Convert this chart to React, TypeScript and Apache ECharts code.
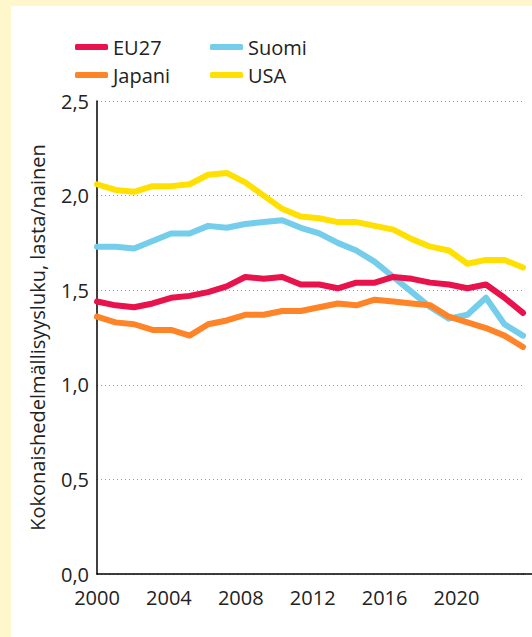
import React, { useEffect, useRef } from "react";
import * as echarts from "echarts";

const years = ["2000","2001","2002","2003","2004","2005","2006","2007","2008","2009","2010","2011","2012","2013","2014","2015","2016","2017","2018","2019","2020","2021","2022","2023"];
const eu27 = [1.44,1.42,1.41,1.43,1.46,1.47,1.49,1.52,1.57,1.56,1.57,1.53,1.53,1.51,1.54,1.54,1.57,1.56,1.54,1.53,1.51,1.53,1.46,1.38];
const suomi = [1.73,1.73,1.72,1.76,1.80,1.80,1.84,1.83,1.85,1.86,1.87,1.83,1.80,1.75,1.71,1.65,1.57,1.49,1.41,1.35,1.37,1.46,1.32,1.26];
const japani = [1.36,1.33,1.32,1.29,1.29,1.26,1.32,1.34,1.37,1.37,1.39,1.39,1.41,1.43,1.42,1.45,1.44,1.43,1.42,1.36,1.33,1.30,1.26,1.20];
const usa = [2.06,2.03,2.02,2.05,2.05,2.06,2.11,2.12,2.07,2.00,1.93,1.89,1.88,1.86,1.86,1.84,1.82,1.77,1.73,1.71,1.64,1.66,1.66,1.62];
const yTicks = [0, 0.5, 1.0, 1.5, 2.0, 2.5];
const xTickLabels = ["2000","2004","2008","2012","2016","2020"];

const FONT = "Open Sans";
const TEXT = "#222222";

export default function App() {
  const ref = useRef<HTMLDivElement>(null);
  useEffect(() => {
    const chart = echarts.init(ref.current!, undefined, { renderer: "svg" });
    const line = (name: string, data: number[], color: string) => ({
      name,
      type: "line",
      data,
      xAxisIndex: 0,
      symbol: "none",
      lineStyle: { width: 6, color, cap: "round", join: "round" },
      itemStyle: { color },
    });
    const legendBase = {
      orient: "vertical",
      top: 26,
      icon: "roundRect",
      itemWidth: 33,
      itemHeight: 6,
      itemGap: 8,
      itemTextGap: 10,
      textStyle: { fontFamily: FONT, fontSize: 20, color: TEXT },
    };
    chart.setOption({
      animation: false,
      backgroundColor: "#ffffff",
      textStyle: { fontFamily: FONT },
      legend: [
        { ...legendBase, data: ["EU27", "Japani"], left: 59 },
        { ...legendBase, data: ["Suomi", "USA"], left: 194 },
      ],
      grid: { left: 86, top: 95, right: 9, bottom: 63, containLabel: false },
      xAxis: [
        {
          type: "category",
          data: years,
          boundaryGap: false,
          axisLine: { show: true, lineStyle: { color: "#000", width: 1.5 } },
          axisTick: { show: false },
          axisLabel: { show: false },
          splitLine: { show: false },
        },
        {
          type: "value",
          min: 2000,
          max: 2023.7,
          interval: 4,
          position: "bottom",
          axisLine: { show: false },
          axisTick: { show: false },
          splitLine: { show: false },
          axisLabel: {
            show: true,
            margin: 13,
            fontFamily: FONT,
            fontSize: 20,
            color: TEXT,
            showMaxLabel: false,
            formatter: (v: number) => (xTickLabels.includes(String(v)) ? String(v) : ""),
          },
        },
      ],
      yAxis: {
        type: "value",
        min: yTicks[0],
        max: yTicks[yTicks.length - 1],
        interval: 0.5,
        name: "Kokonaishedelmällisyysluku, lasta/nainen",
        nameLocation: "middle",
        nameGap: 50,
        nameTextStyle: { fontFamily: FONT, fontSize: 20, color: TEXT },
        axisLine: { show: true, lineStyle: { color: "#000", width: 1.5 } },
        axisTick: { show: false },
        axisLabel: {
          margin: 8,
          fontFamily: FONT,
          fontSize: 20,
          color: TEXT,
          formatter: (v: number) => v.toFixed(1).replace(".", ","),
        },
        splitLine: {
          show: true,
          lineStyle: { color: "#9a9a9a", width: 1, type: [1, 3] },
        },
      },
      graphic: [
        {
          type: "line",
          shape: { x1: 512, y1: 568, x2: 521, y2: 568 },
          style: { stroke: "#000", lineWidth: 1.5 },
        },
      ],
      series: [
        line("Suomi", suomi, "#74cdea"),
        line("USA", usa, "#ffe000"),
        line("EU27", eu27, "#e8124c"),
        line("Japani", japani, "#ff8427"),
      ],
    });
    return () => chart.dispose();
  }, []);
  return (
    <div
      style={{
        position: "fixed",
        left: 0,
        top: 0,
        width: 532,
        height: 637,
        background: "#fff7cc",
        boxSizing: "border-box",
        paddingLeft: 11,
        paddingTop: 6,
      }}
    >
      <div ref={ref} style={{ width: 521, height: 631 }} />
    </div>
  );
}
